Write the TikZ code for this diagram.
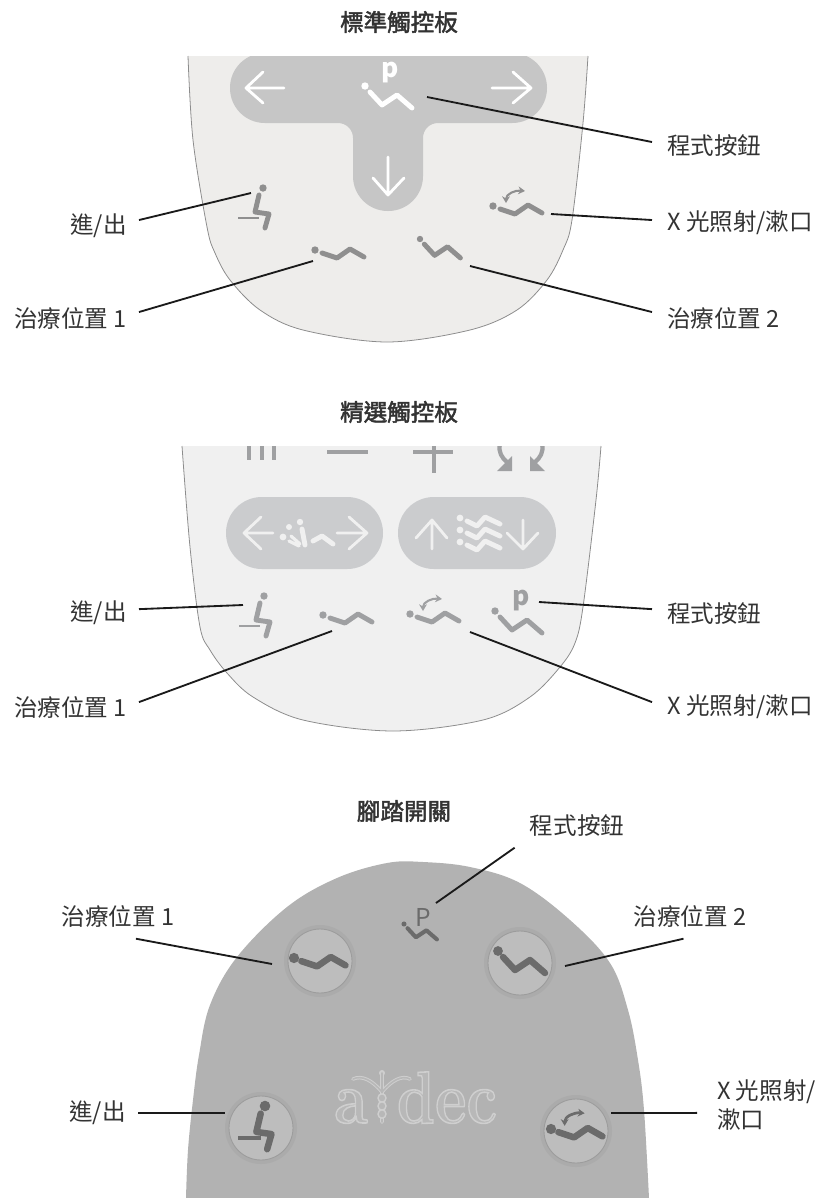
\documentclass[tikz,border=0pt]{standalone}
\usepackage{fontspec}
\setmainfont{Noto Sans CJK TC}
\newfontfamily\captionfont[FakeBold=2]{Noto Sans CJK TC}
\newfontfamily\logofont{Latin Modern Roman}
\usetikzlibrary{arrows.meta}

\definecolor{padone}{HTML}{EEEDEB}
\definecolor{padtwo}{HTML}{F0F0F0}
\definecolor{padrim}{HTML}{8C8C8C}
\definecolor{keyone}{HTML}{C6C6C6}
\definecolor{keytwo}{HTML}{CBCCCE}
\definecolor{iconone}{HTML}{8F8F8F}
\definecolor{icontwo}{HTML}{9FA0A2}
\definecolor{icondark}{HTML}{6B6B6B}
\definecolor{footgray}{HTML}{B2B2B2}
\definecolor{halogray}{HTML}{ABABAB}
\definecolor{capgray}{HTML}{BDBDBD}
\definecolor{caprim}{HTML}{9C9C9C}
\definecolor{logorim}{HTML}{CFCFCF}
\definecolor{logofill}{HTML}{B8B8B8}
\definecolor{inktext}{HTML}{333333}
\definecolor{inkline}{HTML}{1A1A1A}

\def\iconlw{2.8pt}
\def\icondot{3.7}
\newcommand{\logoword}[1]{\special{pdf:code 2 Tr 0.9 w 0.81 G 0.72 g}#1\special{pdf:code 0 Tr 0 w}}
\tikzset{
	leader/.style={draw=inkline, line width=1.05pt},
	caption/.style={font=\fontsize{13.4}{16}\captionfont\selectfont, text=inktext},
	tagl/.style={font=\fontsize{13.4}{16}\selectfont, text=inktext, anchor=east, inner xsep=6.8pt, inner ysep=0pt},
	tagr/.style={font=\fontsize{13.4}{16}\selectfont, text=inktext, anchor=west, inner xsep=8.5pt, inner ysep=0pt},
	tagc/.style={font=\fontsize{13.4}{16}\selectfont, text=inktext, inner ysep=6.5pt},
	logotext/.style={inner sep=0pt, anchor=base, font=\logofont\bfseries\fontsize{42}{42}\selectfont, xscale=0.83},
	iconline/.style={line width=\iconlw, line cap=round, line join=round},
	arrowline/.style={line width=1.6pt, line cap=round, line join=round},
	keypill/.style={fill=keytwo, rounded corners=20.4pt},
	pics/flaticon/.style={code={
		\fill (0,0) circle (\icondot);
		\draw[iconline] (7,3) -- (22,8) -- (35,-1) -- (49,7);
	}},
	pics/reclineicon/.style={code={
		\fill (0,0) circle (\icondot);
		\draw[iconline] (5,6) -- (17,19) -- (32,9) -- (47,22);
	}},
	pics/siticon/.style={code={
		\fill (0,0) circle (\icondot);
		\draw[iconline] (-4,7) -- (-8,24) -- (6,26) -- (2,40);
		\draw[iconline, line cap=butt, line width=0.6*\iconlw] (-25,30) -- (-4,30);
	}},
	pics/rinseicon/.style={code={
		\fill (0,0) circle (\icondot);
		\draw[iconline] (7,3) -- (22,8) -- (35,-1) -- (49,7);
		\draw[line width=0.42*\iconlw, {Stealth[length=3.8pt,width=4.4pt]}-{Stealth[length=3.8pt,width=4.4pt]}]
			(13,-3) .. controls (13,-12) and (22,-16) .. (32,-15);
	}},
}

\begin{document}
\begin{tikzpicture}[x=0.02cm, y=-0.02cm]
	\useasboundingbox (0,0) rectangle (818,1198);

	% standard pad
	\def\padoneline{plot[smooth, tension=0.55] coordinates {(188,56) (193,140) (207,227) (215,253) (230,280) (260,310) (303,330) (387,342) (470,330) (517,310) (547,280) (563,250) (572,220) (583,123) (588,56)}}
	\fill[padone] \padoneline -- cycle;
	\draw[padrim, line width=0.45pt] \padoneline;
	\begin{scope}
		\clip (180,56) rectangle (600,230);
		\fill[keyone] (265,53) [rounded corners=19.8pt] -- (230,53) -- (230,123) [rounded corners=8.5pt] -- (353,123) [rounded corners=19.8pt] -- (353,211) -- (423,211) [rounded corners=8.5pt] -- (423,123) [rounded corners=19.8pt] -- (547,123) -- (547,53) [sharp corners] -- cycle;
	\end{scope}
	\draw[white, arrowline] (284,88) -- (246,88) (263,72) -- (246,88) -- (263,103);
	\draw[white, arrowline] (492,88) -- (531,88) (513,72) -- (531,88) -- (513,103);
	\draw[white, arrowline] (388,157) -- (388,195) (373,178) -- (388,195) -- (404,178);
	\pic[color=white] at (365,86) {reclineicon};
	\node[white, inner sep=0pt, font=\fontsize{15}{15}\selectfont\bfseries] (keyp) at (390,73) {p};
	\begin{scope}[color=iconone]
		\pic at (263,188) {siticon};
		\pic at (315,250) {flaticon};
		\pic[scale=0.86] at (420,239) {reclineicon};
		\pic at (493,206) {rinseicon};
	\end{scope}

	\node[caption] (stdtitle) at (399,22) {標準觸控板};
	\node[tagl] (stdin) at (139,226) {進/出};
	\node[tagl] (stdone) at (139,318) {治療位置 1};
	\node[tagr] (stdprog) at (652,145) {程式按鈕};
	\node[tagr] (stdrinse) at (652,223) {X 光照射/漱口};
	\node[tagr] (stdtwo) at (652,318) {治療位置 2};
	\coordinate (stdintip) at (251,193);
	\coordinate (stdonetip) at (313,261);
	\coordinate (stdprogtip) at (427,97);
	\coordinate (stdrinsetip) at (551,214);
	\coordinate (stdtwotip) at (470,266);
	\draw[leader] ([yshift=3.4pt]stdin.east) -- (stdintip);
	\draw[leader] ([yshift=3.4pt]stdone.east) -- (stdonetip);
	\draw[leader] ([yshift=1.7pt]stdprog.west) -- (stdprogtip);
	\draw[leader] ([yshift=1.7pt]stdrinse.west) -- (stdrinsetip);
	\draw[leader] ([yshift=3.4pt]stdtwo.west) -- (stdtwotip);

	% select pad
	\def\padtwoline{plot[smooth, tension=0.55] coordinates {(182,446) (190,547) (200,627) (210,650) (227,673) (253,697) (303,720) (393,731) (483,720) (530,697) (560,667) (575,643) (583,607) (596,500) (601,446)}}
	\fill[padtwo] \padtwoline -- cycle;
	\draw[padrim, line width=0.45pt] \padtwoline;
	\fill[keypill] (226,497) rectangle (383,569);
	\fill[keypill] (398,497) rectangle (556,569);
	\begin{scope}[color=icontwo]
		\foreach \barx in {249,262,274}{
			\draw[line width=2pt] (\barx,446) -- (\barx,460);
		}
		\draw[line width=2.2pt] (327,452) -- (368,452);
		\draw[line width=1.9pt] (413,452) -- (453,452) (434,446) -- (434,473);
		\begin{scope}
			\clip (490,446) rectangle (550,480);
			\draw[line width=2.4pt] (500,444) .. controls (498,452) and (502,458) .. (507,462);
			\draw[line width=2.4pt] (542,444) .. controls (544,452) and (540,458) .. (535,462);
			\fill (497,471) -- (512,471) -- (512,456) -- cycle;
			\fill (545,471) -- (530,471) -- (530,456) -- cycle;
		\end{scope}
	\end{scope}
	\begin{scope}[color=padtwo]
		\draw[arrowline] (273,533) -- (244,533) (261,517) -- (244,533) -- (261,549);
		\draw[arrowline] (337,533) -- (367,533) (349,517) -- (367,533) -- (349,549);
		\draw[arrowline] (432,549) -- (432,520) (416,538) -- (432,520) -- (447,538);
		\draw[arrowline] (523,520) -- (523,549) (507,533) -- (523,549) -- (538,533);
		\fill (283,537) circle (3.4) (289,527) circle (3) (300,522) circle (3.2);
		\draw[iconline] (302,529) -- (305,545) (313,541) -- (322,536) -- (333,544);
		\draw[line width=1.8pt, line cap=round] (291,536) -- (300,544) (289,541) -- (299,546);
		\foreach \wavey in {0,12,24}{
			\fill (460,518+\wavey) circle (3.4);
			\draw[iconline] (467,521+\wavey) -- (477,526+\wavey) -- (485,517+\wavey) -- (500,524+\wavey);
		}
	\end{scope}
	\begin{scope}[color=icontwo]
		\pic at (264,596) {siticon};
		\pic at (323,615) {flaticon};
		\pic at (410,614) {rinseicon};
		\pic at (495,611) {reclineicon};
	\end{scope}
	\node[icontwo, inner sep=0pt, font=\fontsize{15}{15}\selectfont\bfseries] (selp) at (521,601) {p};

	\node[caption] (seltitle) at (399,412) {精選觸控板};
	\node[tagl] (selin) at (139,613) {進/出};
	\node[tagl] (selone) at (139,707) {治療位置 1};
	\node[tagr] (selprog) at (652,613) {程式按鈕};
	\node[tagr] (selrinse) at (652,707) {X 光照射/漱口};
	\coordinate (selintip) at (243,605);
	\coordinate (selonetip) at (332,631);
	\coordinate (selprogtip) at (539,602);
	\coordinate (selrinsetip) at (470,632);
	\draw[leader] ([yshift=2.2pt]selin.east) -- (selintip);
	\draw[leader] ([yshift=2.8pt]selone.east) -- (selonetip);
	\draw[leader] ([yshift=2.2pt]selprog.west) -- (selprogtip);
	\draw[leader] ([yshift=2.8pt]selrinse.west) -- (selrinsetip);

	% foot switch
	\fill[footgray] plot[smooth, tension=0.6] coordinates {(186,1198) (188,1150) (193,1100) (199,1055) (210,1005) (237,957) (287,907) (337,878) (387,863) (423,862) (470,867) (520,883) (570,920) (610,963) (628,1010) (638,1060) (644,1110) (649,1198)} -- cycle;
	\foreach \capx/\capy in {320/961, 520/963, 261/1128, 576/1131}{
		\fill[halogray] (\capx,\capy) circle (36);
		\fill[capgray, draw=caprim, line width=0.5pt] (\capx,\capy) circle (32);
	}
	\begin{scope}[color=icondark]
		\def\iconlw{3.7pt}
		\def\icondot{4.9}
		\pic[scale=1.05] at (294,958) {flaticon};
		\pic at (498,951) {reclineicon};
		\pic[scale=1.08] at (265,1106) {siticon};
		\pic[scale=1.05] at (551,1129) {rinseicon};
		\def\iconlw{2.3pt}
		\def\icondot{3.6}
		\pic[scale=0.7] at (404,924) {reclineicon};
	\end{scope}
	\node[icondark, inner sep=0pt, font=\fontsize{14}{14}\selectfont] (footp) at (423,917) {P};

	% logo
	\node[logotext] (logoa) at (351,1123) {\logoword{a}};
	\node[logotext] (logodec) at (447,1123) {\logoword{dec}};
	\begin{scope}[line cap=round]
		\fill[logorim] (382,1073) circle (3);
		\draw[logorim, line width=2pt] (382,1073) -- (382,1122) (353,1079) .. controls (362,1075) and (372,1080) .. (382,1092) .. controls (392,1080) and (402,1075) .. (410,1079);
		\draw[logofill, line width=0.9pt] (382,1073) -- (382,1122) (353,1079) .. controls (362,1075) and (372,1080) .. (382,1092) .. controls (392,1080) and (402,1075) .. (410,1079);
		\foreach \coily in {1098,1106,1114}{
			\draw[logorim, fill=logofill, line width=0.8pt] (382,\coily) ellipse (4 and 4.2);
		}
	\end{scope}

	\node[caption] (foottitle) at (404,811) {腳踏開關};
	\node[tagc, inner xsep=8.5pt] (footprog) at (577,825) {程式按鈕};
	\node[tagc] (footone) at (118,916) {治療位置 1};
	\node[tagc] (foottwo) at (690,916) {治療位置 2};
	\node[tagl] (footin) at (138,1113) {進/出};
	\node[tagr, inner xsep=11.3pt, align=left] (footrinse) at (697,1105) {X 光照射/\\漱口};
	\coordinate (footprogtip) at (436,903);
	\coordinate (footonetip) at (272,964);
	\coordinate (foottwotip) at (565,966);
	\coordinate (footintip) at (225,1113);
	\coordinate (footrinsetip) at (611,1113);
	\draw[leader] (footprog.south west) -- (footprogtip);
	\draw[leader] ([xshift=10.2pt]footone.south) -- (footonetip);
	\draw[leader] ([xshift=-3.7pt]foottwo.south) -- (foottwotip);
	\draw[leader] (footin.east) -- (footintip);
	\draw[leader] ([yshift=-4.5pt]footrinse.west) -- (footrinsetip);
\end{tikzpicture}
\end{document}
